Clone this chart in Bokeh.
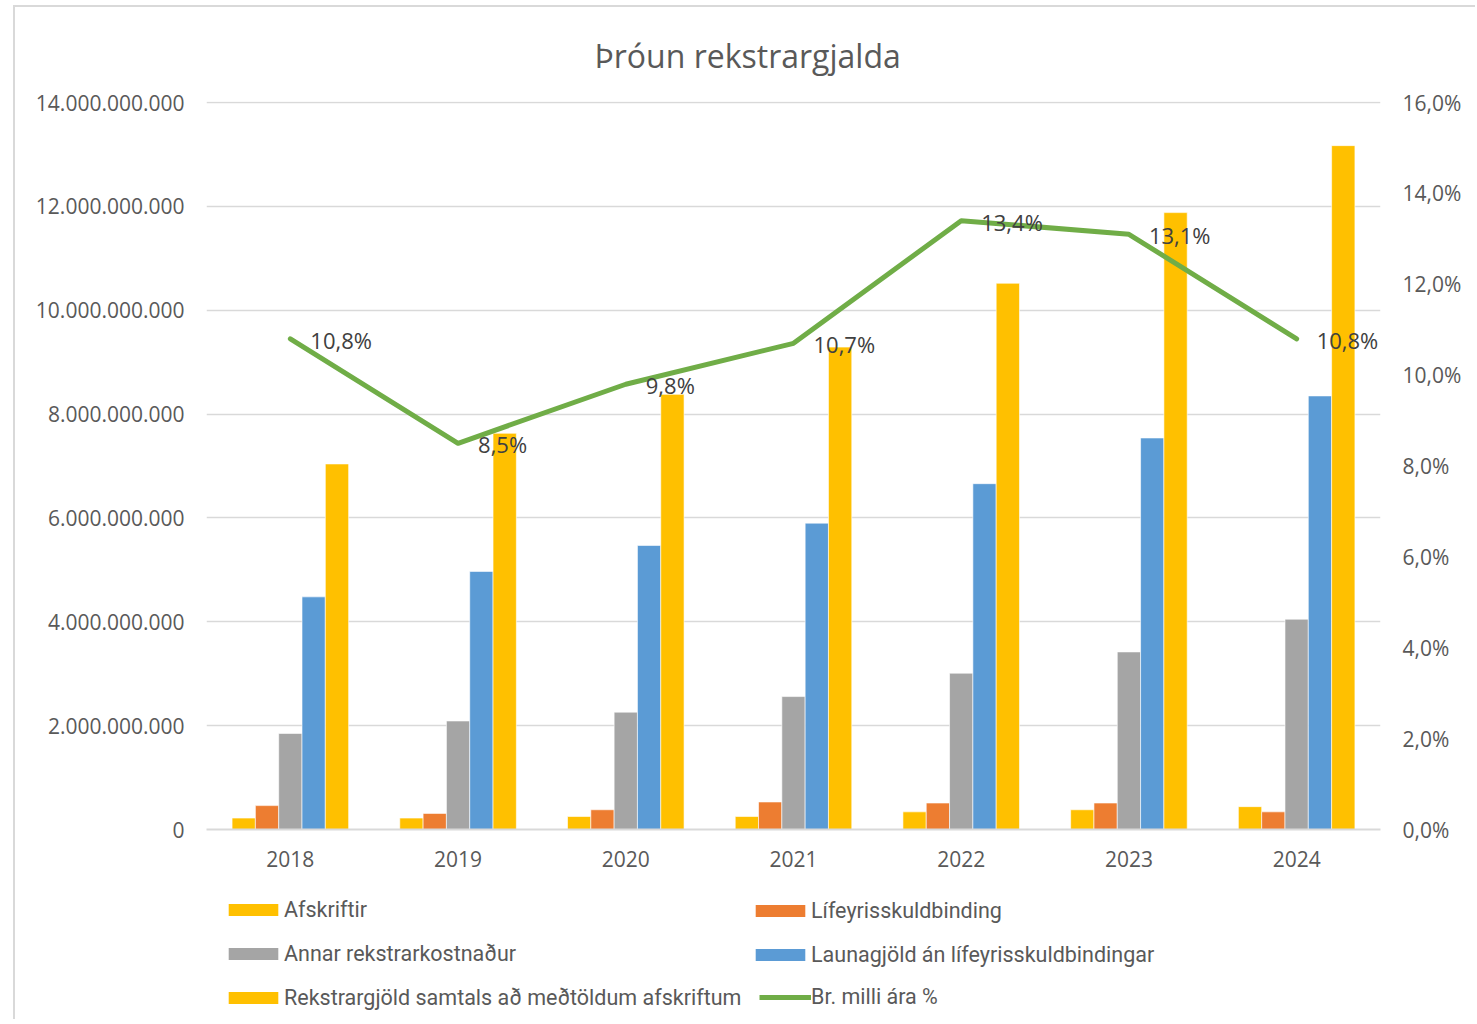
from bokeh.plotting import figure
from bokeh.layouts import column
from bokeh.models import (FactorRange, Range1d, LinearAxis, FixedTicker,
                          ColumnDataSource, Legend, LegendItem)
from bokeh.transform import dodge
from bokeh.core.properties import value
from bokeh.embed import file_html
from bokeh.resources import INLINE

# ---------------- data ----------------
years = ["2018", "2019", "2020", "2021", "2022", "2023", "2024"]
afskriftir = [0.22e9, 0.22e9, 0.25e9, 0.25e9, 0.34e9, 0.38e9, 0.44e9]
lifeyrisskuldbinding = [0.46e9, 0.31e9, 0.38e9, 0.53e9, 0.51e9, 0.51e9, 0.34e9]
annar_rekstrarkostnadur = [1.85e9, 2.09e9, 2.26e9, 2.56e9, 3.01e9, 3.42e9, 4.05e9]
launagjold = [4.48e9, 4.97e9, 5.47e9, 5.90e9, 6.66e9, 7.54e9, 8.35e9]
rekstrargjold_samtals = [7.04e9, 7.63e9, 8.38e9, 9.29e9, 10.52e9, 11.88e9, 13.17e9]
breyting_pct = [10.8, 8.5, 9.8, 10.7, 13.4, 13.1, 10.8]
breyting_labels = ["10,8%", "8,5%", "9,8%", "10,7%", "13,4%", "13,1%", "10,8%"]

left_ticks = [0, 2e9, 4e9, 6e9, 8e9, 10e9, 12e9, 14e9]
left_tick_labels = ["0", "2.000.000.000", "4.000.000.000", "6.000.000.000",
                    "8.000.000.000", "10.000.000.000", "12.000.000.000",
                    "14.000.000.000"]
right_ticks = [0, 2, 4, 6, 8, 10, 12, 14, 16]
right_tick_labels = ["0,0%", "2,0%", "4,0%", "6,0%", "8,0%", "10,0%",
                     "12,0%", "14,0%", "16,0%"]

series_names = ["Afskriftir", "Lífeyrisskuldbinding", "Annar rekstrarkostnaður",
                "Launagjöld án lífeyrisskuldbindingar",
                "Rekstrargjöld samtals að meðtöldum afskriftum"]
line_name = "Br. milli ára %"

# ---------------- styles ----------------
YELLOW = "#FFC000"
ORANGE = "#ED7D31"
GRAY = "#A5A5A5"
BLUE = "#5B9BD5"
GREEN = "#70AD47"
TXT = "#595959"
GRID = "#D9D9D9"
FONT = "Open Sans"
series_colors = [YELLOW, ORANGE, GRAY, BLUE, YELLOW]

src = ColumnDataSource(dict(
    years=years, a=afskriftir, l=lifeyrisskuldbinding, g=annar_rekstrarkostnadur,
    b=launagjold, t=rekstrargjold_samtals, pct=breyting_pct, lab=breyting_labels))

WP, HP = 1460, 880
p = figure(x_range=FactorRange(*years, range_padding=0),
           y_range=Range1d(0, 14.02e9),
           width=WP, height=HP, output_backend="svg", toolbar_location=None,
           min_border_left=191, min_border_right=95, min_border_top=94,
           min_border_bottom=58)
p.extra_y_ranges = {"pct": Range1d(0, 16.023)}

p.title.text = "Þróun rekstrargjalda"
p.title.align = "left"
p.title.offset = 388
p.title.vertical_align = "middle"
p.title.text_font = FONT
p.title.text_font_size = "32px"
p.title.text_font_style = "normal"
p.title.text_color = TXT
p.title.standoff = 48

p.outline_line_color = None
p.background_fill_color = "white"
p.border_fill_color = "white"
p.xgrid.grid_line_color = None
p.ygrid.grid_line_color = GRID
p.ygrid.grid_line_width = 1.5
p.ygrid.ticker = FixedTicker(ticks=left_ticks)

la = p.yaxis[0]
la.ticker = FixedTicker(ticks=left_ticks)
la.major_label_overrides = {t: s for t, s in zip(left_ticks, left_tick_labels)}
ra = LinearAxis(y_range_name="pct", ticker=FixedTicker(ticks=right_ticks))
ra.major_label_overrides = {t: s for t, s in zip(right_ticks, right_tick_labels)}
p.add_layout(ra, "right")

for ax in [la, ra]:
    ax.axis_line_color = None
    ax.major_tick_line_color = None
    ax.minor_tick_line_color = None
    ax.major_label_text_font = FONT
    ax.major_label_text_font_size = "21px"
    ax.major_label_text_color = TXT
    ax.major_label_standoff = 16

xa = p.xaxis[0]
xa.axis_line_color = GRID
xa.axis_line_width = 2
xa.major_tick_line_color = None
xa.minor_tick_line_color = None
xa.major_label_text_font = FONT
xa.major_label_text_font_size = "21px"
xa.major_label_text_color = TXT
xa.major_label_standoff = 15

bw = 0.139
keys = ["a", "l", "g", "b", "t"]
for i, (key, col) in enumerate(zip(keys, series_colors)):
    p.vbar(x=dodge("years", (i - 2) * bw, range=p.x_range), top=key, bottom=0,
           width=bw, source=src, fill_color=col, line_color="white",
           line_width=0.6)

p.line(x="years", y="pct", source=src, y_range_name="pct",
       line_color=GREEN, line_width=5, line_join="round", line_cap="round")
p.text(x="years", y="pct", text="lab", source=src, y_range_name="pct",
       x_offset=20, y_offset=1, text_align="left", text_baseline="middle",
       text_font=value(FONT), text_font_size="22px", text_color="#404040")

# ---------------- legend (separate strip below the chart) ----------------
WL, HL = 1460, 132
q = figure(width=WL, height=HL, x_range=Range1d(0, 1), y_range=Range1d(0, 1),
           output_backend="svg", toolbar_location=None,
           min_border_left=0, min_border_right=0, min_border_top=0,
           min_border_bottom=0)
q.axis.visible = False
q.grid.visible = False
q.outline_line_color = None
q.border_fill_color = "white"

# legend-only renderers of zero size (draw nothing in the strip itself)
leg_src = ColumnDataSource(dict(x=[0.5], y=[0]))
leg_rs = []
for col in series_colors:
    leg_rs.append(q.vbar(x="x", top="y", bottom=0, width=0, source=leg_src,
                         fill_color=col, line_color=None))
leg_line = q.line(x="x", y="y", source=leg_src, line_color=GREEN, line_width=5)

def make_legend(items, x, y, gw, gh):
    lg = Legend(items=items, orientation="vertical", location=(x, y),
                border_line_color=None, background_fill_alpha=0,
                label_text_font="Roboto", label_text_font_size="21.5px",
                label_text_color=TXT, glyph_width=gw, glyph_height=gh,
                label_standoff=0, label_height=24, spacing=19, margin=0,
                padding=0)
    q.add_layout(lg, "center")

make_legend([LegendItem(label=series_names[0], renderers=[leg_rs[0]]),
             LegendItem(label=series_names[2], renderers=[leg_rs[2]]),
             LegendItem(label=series_names[4], renderers=[leg_rs[4]])],
            16, 9, 62, 15)
make_legend([LegendItem(label=series_names[1], renderers=[leg_rs[1]]),
             LegendItem(label=series_names[3], renderers=[leg_rs[3]])],
            543, 52, 62, 15)
make_legend([LegendItem(label=line_name, renderers=[leg_line])],
            553, 10, 52, 12)

layout = column(p, q, spacing=0, margin=(5, 0, 0, 13),
                styles={"border-left": "2px solid #D9D9D9",
                        "border-top": "2px solid #D9D9D9"})

open("out.html", "w").write(file_html(layout, INLINE))
